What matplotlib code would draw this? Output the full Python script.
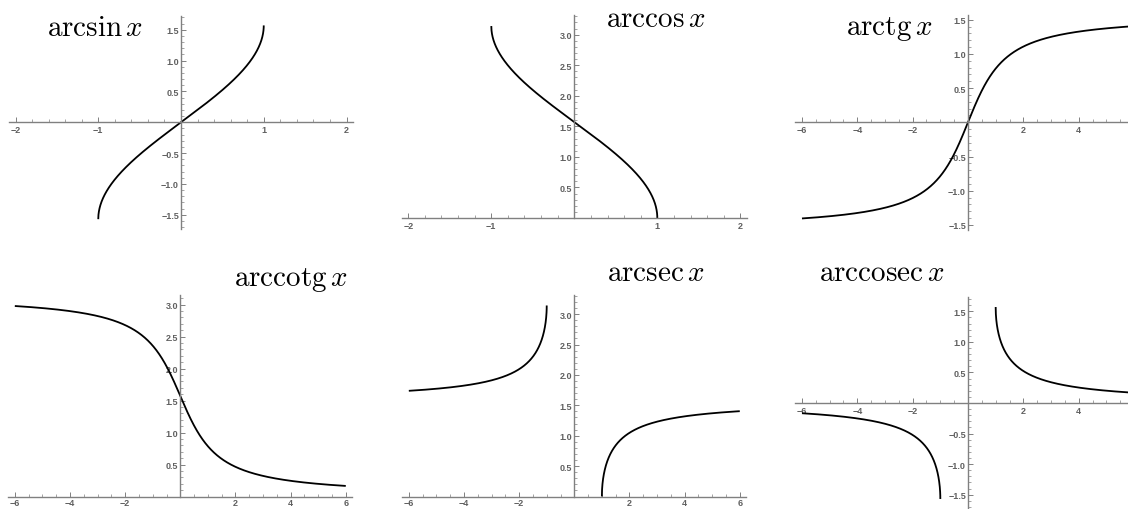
import numpy as np
import matplotlib
matplotlib.use("Agg")
import matplotlib.pyplot as plt
from matplotlib.ticker import FixedLocator, MultipleLocator, FixedFormatter

plt.rcParams['mathtext.fontset'] = 'cm'

W, H = 1128, 510

# Panel titles
titles = [r'$\mathrm{arcsin}\,x$', r'$\mathrm{arccos}\,x$', r'$\mathrm{arctg}\,x$',
          r'$\mathrm{arccotg}\,x$', r'$\mathrm{arcsec}\,x$', r'$\mathrm{arccosec}\,x$']

# Plotting domains (one or two branches per function)
dom_arcsin = [(-1.0, 1.0)]
dom_arccos = [(-1.0, 1.0)]
dom_arctg = [(-6.0, 6.0)]
dom_arccotg = [(-6.0, 6.0)]
dom_arcsec = [(-6.0, -1.0), (1.0, 6.0)]
dom_arccosec = [(-6.0, -1.0), (1.0, 6.0)]

# Tick values and labels
xt_small = [-2, -1, 1, 2]
xt_small_lab = ['\u22122', '\u22121', '1', '2']
xt_wide = [-6, -4, -2, 2, 4, 6]
xt_wide_lab = ['\u22126', '\u22124', '\u22122', '2', '4', '6']
xt_edge = [-6, -4, -2, 2, 4]
xt_edge_lab = ['\u22126', '\u22124', '\u22122', '2', '4']
yt_sym = [-1.5, -1.0, -0.5, 0.5, 1.0, 1.5]
yt_sym_lab = ['\u22121.5', '\u22121.0', '\u22120.5', '0.5', '1.0', '1.5']
yt_pos = [0.5, 1.0, 1.5, 2.0, 2.5, 3.0]
yt_pos_lab = ['0.5', '1.0', '1.5', '2.0', '2.5', '3.0']


def arcsin(x): return np.arcsin(x)
def arccos(x): return np.arccos(x)
def arctg(x): return np.arctan(x)
def arccotg(x): return np.pi / 2 - np.arctan(x)
def arcsec(x): return np.arccos(1.0 / x)
def arccosec(x): return np.arcsin(1.0 / x)


# layout: origin pixel (x0, y0), pixels per unit (ux, uy), xlim, ylim, x minor step,
# title anchor (right edge, baseline) in pixels, x label pad
panels = [
    dict(f=arcsin, dom=dom_arcsin, o=(181, 123.3), u=(82.75, 61.67), xl=(-2.08, 2.08), yl=(-1.728, 1.728),
         xt=(xt_small, xt_small_lab), yt=(yt_sym, yt_sym_lab), xm=0.2, title=(143, 36), xpad=2),
    dict(f=arccos, dom=dom_arccos, o=(574.3, 219), u=(83, 61.1), xl=(-2.08, 2.08), yl=(0, 3.32),
         xt=(xt_small, xt_small_lab), yt=(yt_pos, yt_pos_lab), xm=0.2, title=(705, 27), xpad=2),
    dict(f=arctg, dom=dom_arctg, o=(968, 123.3), u=(27.67, 68.4), xl=(-6.24, 6.24), yl=(-1.571, 1.571),
         xt=(xt_edge, xt_edge_lab), yt=(yt_sym, yt_sym_lab), xm=0.5, title=(932, 35), xpad=2),
    dict(f=arccotg, dom=dom_arccotg, o=(180.3, 497.5), u=(27.58, 64.0), xl=(-6.24, 6.24), yl=(0, 3.148),
         xt=(xt_wide, xt_wide_lab), yt=(yt_pos, yt_pos_lab), xm=0.5, title=(348, 286), xpad=0.8),
    dict(f=arcsec, dom=dom_arcsec, o=(574.3, 497.5), u=(27.58, 60.8), xl=(-6.24, 6.24), yl=(0, 3.31),
         xt=(xt_wide, xt_wide_lab), yt=(yt_pos, yt_pos_lab), xm=0.5, title=(705, 281), xpad=0.8),
    dict(f=arccosec, dom=dom_arccosec, o=(968, 404), u=(27.67, 61.1), xl=(-6.24, 6.24), yl=(-1.73, 1.73),
         xt=(xt_edge, xt_edge_lab), yt=(yt_sym, yt_sym_lab), xm=0.5, title=(944, 281), xpad=2),
]

fig = plt.figure(figsize=(W / 100, H / 100), dpi=100)

axis_col = '#808080'
label_col = '#606060'

for p, title in zip(panels, titles):
    (x0, y0), (ux, uy) = p['o'], p['u']
    xl, yl = p['xl'], p['yl']
    left = x0 + xl[0] * ux
    top = y0 - yl[1] * uy
    wpx = (xl[1] - xl[0]) * ux
    hpx = (yl[1] - yl[0]) * uy
    ax = fig.add_axes([left / W, (H - top - hpx) / H, wpx / W, hpx / H])
    ax.patch.set_alpha(0)
    for a, b in p['dom']:
        x = np.linspace(a, b, 3000)
        ax.plot(x, p['f'](x), color='black', lw=1.3, solid_capstyle='butt', clip_on=False)
    ax.set_xlim(*xl)
    ax.set_ylim(*yl)
    for s in ('top', 'right'):
        ax.spines[s].set_visible(False)
    for s in ('left', 'bottom'):
        ax.spines[s].set_position(('data', 0))
        ax.spines[s].set_color(axis_col)
        ax.spines[s].set_linewidth(1.0)
    ax.xaxis.set_major_locator(FixedLocator(p['xt'][0]))
    ax.xaxis.set_major_formatter(FixedFormatter(p['xt'][1]))
    ax.yaxis.set_major_locator(FixedLocator(p['yt'][0]))
    ax.yaxis.set_major_formatter(FixedFormatter(p['yt'][1]))
    ax.xaxis.set_minor_locator(MultipleLocator(p['xm']))
    ax.yaxis.set_minor_locator(MultipleLocator(0.1))
    ax.tick_params(which='major', direction='in', length=3.5, width=0.7, color=axis_col,
                   labelsize=6.5, labelcolor=label_col)
    ax.tick_params(which='minor', direction='in', length=2, width=0.5, color=axis_col)
    ax.tick_params(axis='x', which='major', pad=p['xpad'])
    ax.tick_params(axis='y', which='major', pad=1.5)
    for lab in ax.get_xticklabels() + ax.get_yticklabels():
        lab.set_fontweight('bold')
        lab.set_family('Liberation Sans')
    tx, ty = p['title']
    fig.text(tx / W, (H - ty) / H, title, fontsize=21, ha='right', va='baseline')

fig.savefig('out.png', dpi=100)
